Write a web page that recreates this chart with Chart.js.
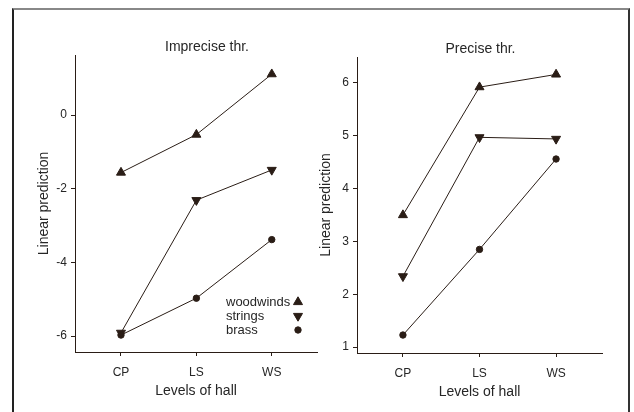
<!DOCTYPE html>
<html>
<head>
<meta charset="utf-8">
<script src="https://cdn.jsdelivr.net/npm/chart.js@4.4.0/dist/chart.umd.min.js"></script>
<style>
  body { margin: 0; background: #fff; }
  #wrap { position: relative; width: 634px; height: 412px; overflow: hidden; }
  #frame { position: absolute; left: 12px; top: 8px; width: 614px; height: 420px;
           border-left: 2px solid #222; border-right: 2px solid #333; border-top: 2px solid #888; }
  canvas { position: absolute; top: 0; }
  #left { left: 0; }
  #right { left: 290px; }
</style>
</head>
<body>
<div id="wrap">
  <div id="frame"></div>
  <canvas id="left" width="330" height="412"></canvas>
  <canvas id="right" width="344" height="412"></canvas>
</div>
<script>
const categories = ['CP', 'LS', 'WS'];
const seriesNames = ['woodwinds', 'strings', 'brass'];

// Imprecise threshold panel
const impreciseWoodwinds = [-1.56, -0.53, 1.11];
const impreciseStrings = [-5.91, -2.31, -1.49];
const impreciseBrass = [-5.97, -4.97, -3.38];
const impreciseTicks = [-6, -4, -2, 0];

// Precise threshold panel
const preciseWoodwinds = [3.50, 5.92, 6.16];
const preciseStrings = [2.34, 4.97, 4.94];
const preciseBrass = [1.23, 2.85, 4.56];
const preciseTicks = [1, 2, 3, 4, 5, 6];

const ink = '#2a1d16';
const textColor = '#262626';
const fontFamily = "'Liberation Sans', Arial, sans-serif";

const markers = [
  { pointStyle: 'triangle', rotation: 0, radius: 5.2 },
  { pointStyle: 'triangle', rotation: 180, radius: 5.2 },
  { pointStyle: 'circle', rotation: 0, radius: 3.2 }
];

function makeDatasets(lists) {
  return lists.map((values, i) => ({
    label: seriesNames[i],
    data: values.map((v, j) => ({ x: j, y: v })),
    borderColor: ink,
    backgroundColor: ink,
    borderWidth: 1,
    pointStyle: markers[i].pointStyle,
    rotation: markers[i].rotation,
    pointRadius: markers[i].radius,
    pointBorderWidth: 1,
    showLine: true,
    fill: false
  }));
}

// panel heading drawn above the plot area
const panelTitle = {
  id: 'panelTitle',
  afterDraw(chart, args, opts) {
    const { ctx, chartArea } = chart;
    ctx.save();
    ctx.font = '14px ' + fontFamily;
    ctx.fillStyle = textColor;
    ctx.textAlign = 'center';
    ctx.textBaseline = 'middle';
    ctx.fillText(opts.text, (chartArea.left + chartArea.right) / 2 + opts.dx, chartArea.top - 8);
    ctx.restore();
  }
};

// small legend inside the plot, markers to the right of the names
const insideLegend = {
  id: 'insideLegend',
  afterDraw(chart, args, opts) {
    if (!opts.show) return;
    const { ctx, chartArea } = chart;
    ctx.save();
    ctx.font = '13px ' + fontFamily;
    ctx.textAlign = 'left';
    ctx.textBaseline = 'middle';
    chart.data.datasets.forEach((ds, i) => {
      const y = chartArea.bottom - 50 + i * 14;
      ctx.fillStyle = textColor;
      ctx.fillText(ds.label, chartArea.right - 91, y);
      ctx.fillStyle = ink;
      ctx.strokeStyle = ink;
      Chart.helpers.drawPoint(ctx, {
        pointStyle: ds.pointStyle, rotation: ds.rotation,
        radius: ds.pointRadius, borderWidth: 1
      }, chartArea.right - 19, y);
    });
    ctx.restore();
  }
};

function makeChart(id, lists, yTicks, yMin, yMax, xMin, xMax, padding, title, dx, showLegend) {
  const ctx = document.getElementById(id).getContext('2d');
  return new Chart(ctx, {
    type: 'scatter',
    data: { datasets: makeDatasets(lists) },
    plugins: [panelTitle, insideLegend],
    options: {
      responsive: false,
      animation: false,
      layout: { padding: padding },
      plugins: {
        legend: { display: false },
        tooltip: { enabled: false },
        panelTitle: { text: title, dx: dx },
        insideLegend: { show: showLegend }
      },
      scales: {
        x: {
          type: 'linear',
          min: xMin,
          max: xMax,
          afterBuildTicks: scale => { scale.ticks = categories.map((c, i) => ({ value: i })); },
          afterFit: scale => { scale.height = 49; },
          ticks: {
            callback: v => categories[v],
            color: textColor,
            font: { family: fontFamily, size: 12 },
            padding: 9,
            maxRotation: 0
          },
          grid: { drawOnChartArea: false, drawTicks: true, tickLength: 4, color: ink },
          border: { display: true, color: ink, width: 1 },
          title: {
            display: true,
            text: 'Levels of hall',
            color: textColor,
            font: { family: fontFamily, size: 14 },
            padding: { top: 0, bottom: 1 }
          }
        },
        y: {
          min: yMin,
          max: yMax,
          afterBuildTicks: scale => { scale.ticks = yTicks.map(v => ({ value: v })); },
          afterFit: scale => { scale.width = 45; },
          ticks: {
            color: textColor,
            font: { family: fontFamily, size: 12 },
            padding: 4
          },
          grid: { drawOnChartArea: false, drawTicks: true, tickLength: 4, color: ink },
          border: { display: true, color: ink, width: 1 },
          title: {
            display: true,
            text: 'Linear prediction',
            color: textColor,
            font: { family: fontFamily, size: 14 },
            padding: { top: 6, bottom: 0 }
          }
        }
      }
    }
  });
}

makeChart('left', [impreciseWoodwinds, impreciseStrings, impreciseBrass], impreciseTicks,
  -6.43, 1.63, -0.61, 2.6, { left: 30, top: 55, right: 13, bottom: 11 }, 'Imprecise thr.', 11, true);
makeChart('right', [preciseWoodwinds, preciseStrings, preciseBrass], preciseTicks,
  0.89, 6.49, -0.6, 2.6, { left: 22, top: 57, right: 32, bottom: 10 }, 'Precise thr.', 1, false);
</script>
</body>
</html>
